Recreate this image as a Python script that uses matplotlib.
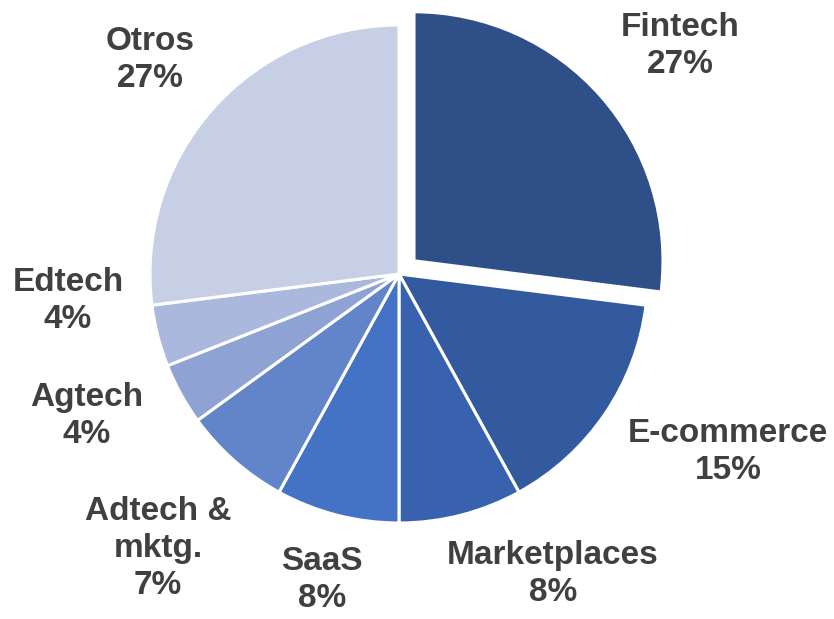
import matplotlib.pyplot as plt

# sector shares (%)
sectors = ["Fintech", "E-commerce", "Marketplaces", "SaaS",
           "Adtech &\nmktg.", "Agtech", "Edtech", "Otros"]
shares = [27, 15, 8, 8, 7, 4, 4, 27]

colors = ["#2E4F87", "#335A9F", "#3862AE", "#4472C4",
          "#6284C8", "#8EA2D4", "#ABB8DD", "#C7CFE6"]

# label anchor points in pixel coords (x, y from top)
label_pos = [(680, 46), (728, 452), (553, 574), (322, 580),
             (158, 548), (87, 416), (68, 301), (150, 60)]

W, H = 834, 619
fig = plt.figure(figsize=(W / 100, H / 100), dpi=100)
ax = fig.add_axes([0, 0, 1, 1])

explode = [20] + [0] * (len(shares) - 1)
ax.pie(shares, colors=colors, startangle=90, counterclock=False,
       center=(399, H - 274), radius=249, explode=explode,
       wedgeprops=dict(edgecolor="white", linewidth=2.2))

for name, val, (px, py) in zip(sectors, shares, label_pos):
    ax.text(px, H - py, f"{name}\n{val}%", ha="center", va="center",
            fontsize=24, fontweight="bold", color="#404040",
            family="Liberation Sans", linespacing=1.25)

ax.set_xlim(0, W)
ax.set_ylim(0, H)
ax.set_aspect("equal")
ax.axis("off")

fig.savefig("out.png", dpi=100)
